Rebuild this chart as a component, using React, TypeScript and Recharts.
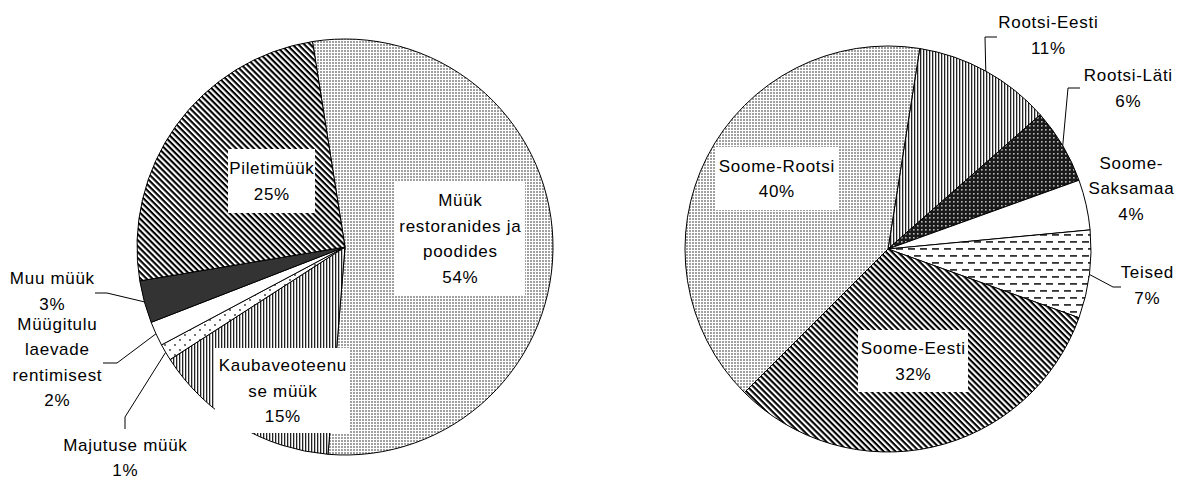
import React from "react";
import { PieChart, Pie, Cell } from "recharts";

// ---------- data ----------
const leftNames = [
  "Müük restoranides ja poodides",
  "Kaubaveoteenuse müük",
  "Majutuse müük",
  "Müügitulu laevade rentimisest",
  "Muu müük",
  "Piletimüük",
];
const leftValues = [53.8, 14.6, 1.3, 1.9, 3.3, 25.1];
const leftLabelLines = [
  ["Müük", "restoranides ja", "poodides"],
  ["Kaubaveoteenu", "se müük"],
  ["Majutuse müük"],
  ["Müügitulu", "laevade", "rentimisest"],
  ["Muu müük"],
  ["Piletimüük"],
];

const rightNames = ["Rootsi-Eesti", "Rootsi-Läti", "Soome-Saksamaa", "Teised", "Soome-Eesti", "Soome-Rootsi"];
const rightValues = [11, 6, 4, 7, 32, 40];
const rightLabelLines = [["Rootsi-Eesti"], ["Rootsi-Läti"], ["Soome-", "Saksamaa"], ["Teised"], ["Soome-Eesti"], ["Soome-Rootsi"]];

// ---------- styles / layout ----------
const leftFills = ["url(#pDots)", "url(#pVert)", "url(#pSparse)", "#ffffff", "#333333", "url(#pDiag)"];
const rightFills = ["url(#pVert)", "url(#pCross)", "#ffffff", "url(#pDash)", "url(#pDiag)", "url(#pDots)"];

type LabelLayout = { dx: number; dy: number; box?: [number, number]; leader?: [number, number, number, number] };

const leftLayout: LabelLayout[] = [
  { dx: 115, dy: -8.5, box: [130, 113] },
  { dx: -62.5, dy: 143.5, box: [135, 85] },
  { dx: -220, dy: 210.5, leader: [-220, 170, -220, 182] },
  { dx: -288, dy: 115, leader: [-228, 116, -242, 116] },
  { dx: -293, dy: 44, leader: [-238, 46, -250, 46] },
  { dx: -73.5, dy: -66, box: [87, 64] },
];
const rightLayout: LabelLayout[] = [
  { dx: 160, dy: -214, leader: [97, -212, 109, -212] },
  { dx: 240, dy: -161, leader: [180, -161, 192, -161] },
  { dx: 243, dy: -61 },
  { dx: 259, dy: 36, leader: [225, 38, 233, 38] },
  { dx: 25, dy: 112, box: [110, 62] },
  { dx: -111.5, dy: -70.5, box: [123, 63] },
];

const FONT = "'Liberation Sans', Arial, sans-serif";
const FS = 17;
const LS = 0.7;
const LH = 25.5;
const RAD = Math.PI / 180;

const makeLabel = (lines: string[][], layout: LabelLayout[]) => (props: any) => {
  const { cx, cy, midAngle, outerRadius, percent, index } = props;
  const L = layout[index];
  const textLines = [...lines[index], `${Math.round(percent * 100)}%`];
  const x = cx + L.dx;
  const y = cy + L.dy;
  const n = textLines.length;
  let leader = null;
  if (L.leader) {
    const sx = cx + outerRadius * Math.cos(-midAngle * RAD);
    const sy = cy + outerRadius * Math.sin(-midAngle * RAD);
    leader = (
      <polyline
        points={`${sx},${sy} ${cx + L.leader[0]},${cy + L.leader[1]} ${cx + L.leader[2]},${cy + L.leader[3]}`}
        fill="none"
        stroke="#000"
        strokeWidth={1}
      />
    );
  }
  return (
    <g key={`lbl-${index}`}>
      {leader}
      {L.box && <rect x={x - L.box[0] / 2} y={y - L.box[1] / 2} width={L.box[0]} height={L.box[1]} fill="#fff" />}
      <text textAnchor="middle" fontFamily={FONT} fontSize={FS} letterSpacing={LS} fill="#000">
        {textLines.map((t, i) => (
          <tspan key={i} x={x + LS / 2} y={y + (i - (n - 1) / 2) * LH + 6}>
            {t}
          </tspan>
        ))}
      </text>
    </g>
  );
};

const leftData = leftNames.map((name, i) => ({ name, value: leftValues[i] }));
const rightData = rightNames.map((name, i) => ({ name, value: rightValues[i] }));

export default function App() {
  return (
    <PieChart
      width={1167}
      height={472}
      margin={{ top: 0, right: 0, bottom: 0, left: 0 }}
      style={{ overflow: "visible", background: "#fff" }}
    >
      <defs>
        <pattern id="pDots" width="3" height="3" patternUnits="userSpaceOnUse">
          <rect width="3" height="3" fill="#fff" />
          <rect width="2" height="2" fill="#a0a0a0" />
        </pattern>
        <pattern id="pDiag" width="4.2" height="4.2" patternUnits="userSpaceOnUse" patternTransform="rotate(45)">
          <rect width="4.2" height="4.2" fill="#fff" />
          <rect width="4.2" height="2.1" fill="#000" />
        </pattern>
        <pattern id="pVert" width="3" height="3" patternUnits="userSpaceOnUse">
          <rect width="3" height="3" fill="#fff" />
          <rect width="1.3" height="3" fill="#222" />
        </pattern>
        <pattern id="pSparse" width="10" height="10" patternUnits="userSpaceOnUse">
          <rect width="10" height="10" fill="#fff" />
          <circle cx="2" cy="2" r="0.9" fill="#333" />
          <circle cx="7" cy="7" r="0.9" fill="#333" />
        </pattern>
        <pattern id="pCross" width="4" height="4" patternUnits="userSpaceOnUse">
          <rect width="4" height="4" fill="#1a1a1a" />
          <rect x="1" y="1" width="1.6" height="1.6" fill="#bbb" />
        </pattern>
        <pattern id="pDash" width="12" height="14" patternUnits="userSpaceOnUse">
          <rect width="12" height="14" fill="#fff" />
          <rect x="0" y="2" width="7" height="1.8" fill="#333" />
          <rect x="6" y="9" width="6" height="1.8" fill="#333" />
          <rect x="0" y="9" width="1" height="1.8" fill="#333" />
        </pattern>
      </defs>
      <Pie
        data={leftData}
        dataKey="value"
        nameKey="name"
        cx={337}
        cy={239}
        outerRadius={208}
        startAngle={99}
        endAngle={-261}
        stroke="#000"
        strokeWidth={1}
        isAnimationActive={false}
        labelLine={false}
        label={makeLabel(leftLabelLines, leftLayout)}
      >
        {leftData.map((d, i) => (
          <Cell key={d.name} fill={leftFills[i]} />
        ))}
      </Pie>
      <Pie
        data={rightData}
        dataKey="value"
        nameKey="name"
        cx={880}
        cy={241}
        outerRadius={203}
        startAngle={81}
        endAngle={-279}
        stroke="#000"
        strokeWidth={1}
        isAnimationActive={false}
        labelLine={false}
        label={makeLabel(rightLabelLines, rightLayout)}
      >
        {rightData.map((d, i) => (
          <Cell key={d.name} fill={rightFills[i]} />
        ))}
      </Pie>
    </PieChart>
  );
}
